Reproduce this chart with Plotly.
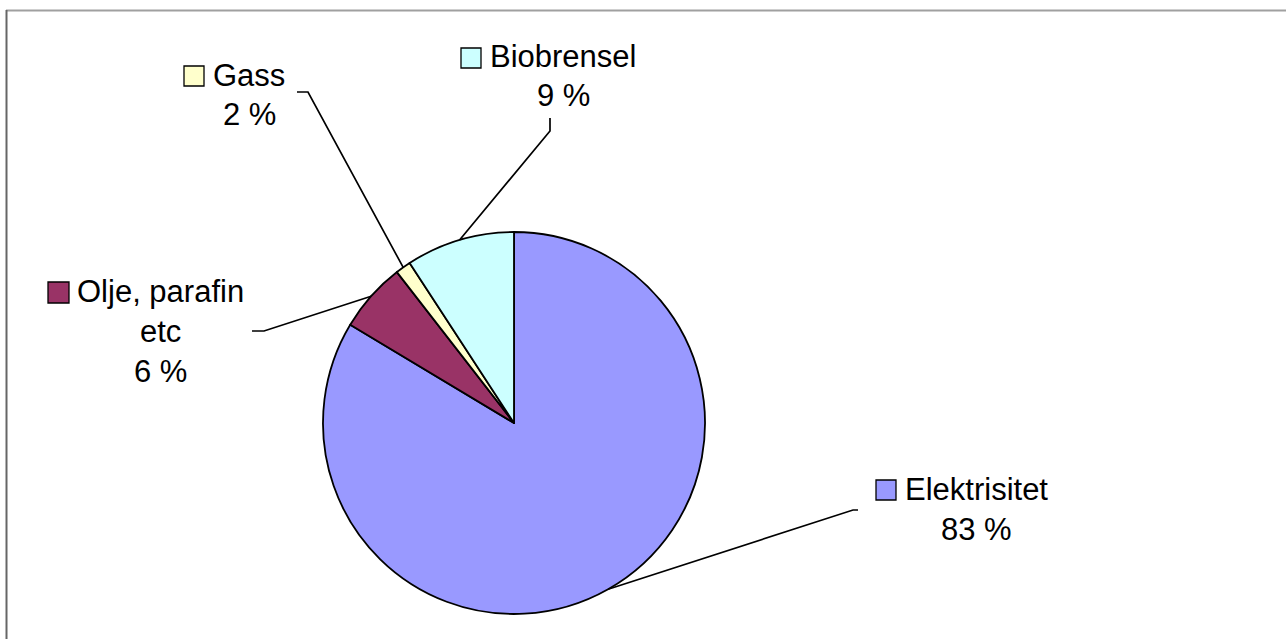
import math
import plotly.graph_objects as go

# ---- data ----
categories = ["Elektrisitet", "Olje, parafin etc", "Gass", "Biobrensel"]
shares = [83.6, 5.9, 1.3, 9.2]
percent_labels = ["83 %", "6 %", "2 %", "9 %"]
name_lines = [["Elektrisitet"], ["Olje, parafin", "etc"], ["Gass"], ["Biobrensel"]]
colors = ["#9999FF", "#993366", "#FFFFCC", "#CCFFFF"]

# ---- layout constants (pixels) ----
W, H = 1286, 639
CX, CY, R = 514, 423, 191
FONT = dict(family="Liberation Sans, Arial, sans-serif", size=31, color="black")
LINE_H = 40
# label block: (center x, first line center y)
label_pos = [(976, 489), (160, 291), (249, 75), (563, 56)]
# legend key squares: (x0, y0, size)
key_pos = [(876, 480, 20), (48, 282, 21), (184, 66, 20), (461, 48, 20)]
# leader line outer points (from label side towards pie)
leader_outer = [[(858, 510), (853, 510)], [(252, 331), (264, 331)],
                [(297, 92), (308, 92)], [(550, 118), (550, 131)]]


def px(x):
    return x / W


def py(y):
    return 1 - y / H


fig = go.Figure(go.Pie(
    labels=categories, values=shares, sort=False, direction="clockwise",
    rotation=0, textinfo="none", hoverinfo="label+percent",
    marker=dict(colors=colors, line=dict(color="black", width=1.8)),
    domain=dict(x=[px(CX - R), px(CX + R)], y=[py(CY + R), py(CY - R)]),
    showlegend=False,
))

shapes = []
annotations = []
total = sum(shares)
cum = 0.0
for i, cat in enumerate(categories):
    mid = (cum + shares[i] / 2) / total * 2 * math.pi
    cum += shares[i]
    ax = CX + R * math.sin(mid)
    ay = CY - R * math.cos(mid)
    pts = leader_outer[i] + [(ax, ay)]
    path = "M " + " L ".join(f"{px(x):.5f},{py(y):.5f}" for x, y in pts)
    shapes.append(dict(type="path", path=path, xref="paper", yref="paper",
                       line=dict(color="black", width=1.7)))
    kx, ky, ks = key_pos[i]
    shapes.append(dict(type="rect", xref="paper", yref="paper",
                       x0=px(kx), x1=px(kx + ks), y0=py(ky + ks), y1=py(ky),
                       fillcolor=colors[i], line=dict(color="black", width=1.3)))
    lx, ly = label_pos[i]
    lines = name_lines[i] + [percent_labels[i]]
    for j, t in enumerate(lines):
        annotations.append(dict(text=t, x=px(lx), y=py(ly + j * LINE_H),
                                xref="paper", yref="paper", showarrow=False,
                                xanchor="center", yanchor="middle", font=FONT))

# chart frame
shapes.append(dict(type="line", xref="paper", yref="paper",
                   x0=px(6), x1=px(W), y0=py(10.5), y1=py(10.5),
                   line=dict(color="#a0a0a0", width=2)))
shapes.append(dict(type="line", xref="paper", yref="paper",
                   x0=px(6.5), x1=px(6.5), y0=py(10), y1=py(H),
                   line=dict(color="#666666", width=2)))

fig.update_layout(
    width=W, height=H, margin=dict(l=0, r=0, t=0, b=0),
    paper_bgcolor="white", plot_bgcolor="white",
    shapes=shapes, annotations=annotations, showlegend=False,
)

fig.write_html("out.html", config={"displayModeBar": False},
               post_script="document.body.style.margin='0';")
